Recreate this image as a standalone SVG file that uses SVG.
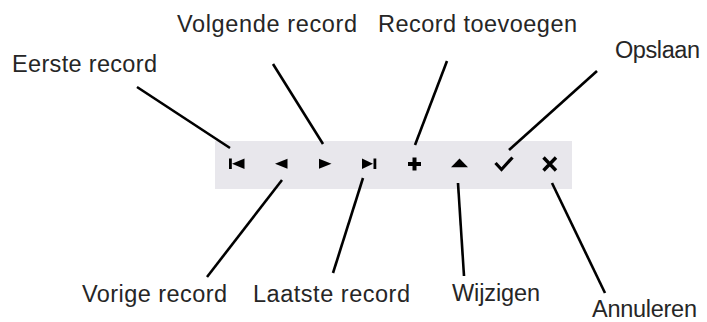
<svg xmlns="http://www.w3.org/2000/svg" width="707" height="322" viewBox="0 0 707 322">
<style>
.lbl{font-family:"Liberation Sans",Arial,sans-serif;font-size:23.5px;fill:#262626}
.ln{stroke:#000;stroke-width:2.6;fill:none;stroke-linecap:butt}
.ic{fill:#000}
.ics{stroke:#000;fill:none}
</style>
<rect width="707" height="322" fill="#fff"/>
<g id="toolbar">
<rect x="215" y="141" width="357" height="48" fill="#e8e7ec"/>
</g>
<g id="btn-first"><rect class="ic" x="229" y="158.5" width="2.8" height="10.5"/><path class="ic" d="M232 163.7 L244.5 158.5 L244.5 169 Z"/></g>
<g id="btn-prev"><path class="ic" d="M275 163.7 L287.5 158.8 L287.5 168.8 Z"/></g>
<g id="btn-next"><path class="ic" d="M331.5 163.7 L319 158.8 L319 168.8 Z"/></g>
<g id="btn-last"><path class="ic" d="M373 163.7 L362 158.5 L362 169 Z"/><rect class="ic" x="373.5" y="158.5" width="2.8" height="10.5"/></g>
<g id="btn-add"><path class="ics" stroke-width="4" d="M414.5 157.5 V170.5 M408 164 H421"/></g>
<g id="btn-edit"><path class="ic" d="M459.5 158.5 L468 167.3 L451 167.3 Z"/></g>
<g id="btn-save"><path class="ics" stroke-width="3.2" d="M495.5 163 L501.5 169.5 L512.5 157.5"/></g>
<g id="btn-cancel"><path class="ics" stroke-width="3.4" d="M543.5 157.5 L556 170.5 M556 157.5 L543.5 170.5"/></g>
<g id="connectors">
<line class="ln" x1="137" y1="87" x2="230" y2="148"/>
<line class="ln" x1="273" y1="64" x2="323" y2="144"/>
<line class="ln" x1="447" y1="61" x2="415" y2="145"/>
<line class="ln" x1="597" y1="71" x2="509" y2="150"/>
<line class="ln" x1="282" y1="180" x2="207" y2="277"/>
<line class="ln" x1="363" y1="178" x2="333" y2="273"/>
<line class="ln" x1="458" y1="183" x2="464" y2="276"/>
<line class="ln" x1="552" y1="183" x2="605" y2="293"/>
</g>
<g id="label-eerste"><text class="lbl" x="12" y="72" textLength="145">Eerste record</text></g>
<g id="label-volgende"><text class="lbl" x="177" y="32" textLength="180">Volgende record</text></g>
<g id="label-toevoegen"><text class="lbl" x="378" y="32" textLength="199">Record toevoegen</text></g>
<g id="label-opslaan"><text class="lbl" x="615" y="58" textLength="85">Opslaan</text></g>
<g id="label-vorige"><text class="lbl" x="82" y="302" textLength="145">Vorige record</text></g>
<g id="label-laatste"><text class="lbl" x="253" y="302" textLength="157">Laatste record</text></g>
<g id="label-wijzigen"><text class="lbl" x="452" y="301" textLength="88">Wijzigen</text></g>
<g id="label-annuleren"><text class="lbl" x="592" y="317" textLength="105">Annuleren</text></g>
</svg>
